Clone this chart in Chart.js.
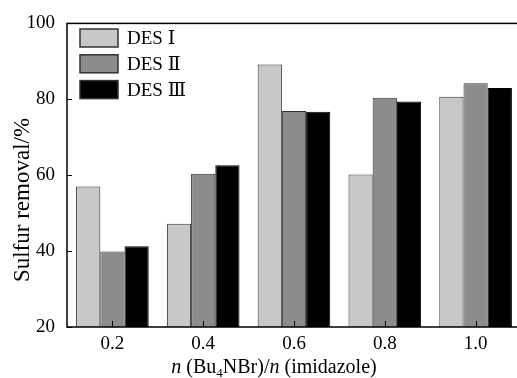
<!DOCTYPE html>
<html>
<head>
<meta charset="utf-8">
<script src="https://cdn.jsdelivr.net/npm/chart.js@4.4.1/dist/chart.umd.min.js"></script>
<style>
  body { margin: 0; background: #fff; overflow: hidden; }
</style>
</head>
<body>
<canvas id="myChart" width="530" height="378"></canvas>
<script>
// molar ratio n(Bu4NBr)/n(imidazole) vs sulfur removal for three DES
const ratios = ['0.2', '0.4', '0.6', '0.8', '1.0'];
const desNames = ['DES Ⅰ', 'DES Ⅱ', 'DES Ⅲ'];
const des1 = [57.0, 47.2, 89.2, 60.2, 80.7];
const des2 = [39.9, 60.4, 76.9, 80.4, 84.2];
const des3 = [41.3, 62.6, 76.7, 79.4, 83.0];
const yTicks = [20, 40, 60, 80, 100];
const yTitle = 'Sulfur removal/%';

const fills = ['#c8c8c8', '#8c8c8c', '#000000'];
const serif = '"Liberation Serif", "DejaVu Serif", serif';

const ctx = document.getElementById('myChart');

const extras = {
  id: 'extras',
  afterDatasetsDraw(chart) {
    const c = chart.ctx;
    const a = chart.chartArea;
    const x = chart.scales.x, y = chart.scales.y;
    c.save();
    c.strokeStyle = '#000';
    c.lineWidth = 1.5;
    c.strokeRect(a.left, a.top, a.right - a.left, a.bottom - a.top);

    // ticks point inwards
    c.lineWidth = 1;
    c.beginPath();
    yTicks.forEach(v => {
      const py = Math.round(y.getPixelForValue(v)) + 0.5;
      c.moveTo(a.left, py); c.lineTo(a.left + 5, py);
    });
    ratios.forEach((r, i) => {
      const px = Math.round(x.getPixelForTick(i)) + 0.5;
      c.moveTo(px, a.bottom); c.lineTo(px, a.bottom - 6);
    });
    c.stroke();

    // legend inside the plot
    c.font = '19px ' + serif;
    c.textBaseline = 'middle';
    chart.data.datasets.forEach((ds, i) => {
      const top = 29 + i * 25.8;
      c.fillStyle = ds.backgroundColor;
      c.fillRect(80, top, 38, 18);
      c.strokeStyle = '#333';
      c.lineWidth = 1.5;
      c.strokeRect(80, top, 38, 18);
      c.fillStyle = '#000';
      c.fillText(ds.label, 127, top + 10);
    });

    // y title
    c.save();
    c.translate(23, 200);
    c.rotate(-Math.PI / 2);
    c.textAlign = 'center';
    c.textBaseline = 'middle';
    c.font = '23px ' + serif;
    c.fillText(yTitle, 0, 0);
    c.restore();

    // x title with italic n and subscript 4
    const parts = [
      { t: 'n', f: 'italic 20px ' + serif, dy: 0 },
      { t: ' (Bu', f: '20px ' + serif, dy: 0 },
      { t: '4', f: '13px ' + serif, dy: 4 },
      { t: 'NBr)/', f: '20px ' + serif, dy: 0 },
      { t: 'n', f: 'italic 20px ' + serif, dy: 0 },
      { t: ' (imidazole)', f: '20px ' + serif, dy: 0 }
    ];
    let total = 0;
    parts.forEach(p => { c.font = p.f; p.w = c.measureText(p.t).width; total += p.w; });
    let px = 274 - total / 2;
    c.textBaseline = 'alphabetic';
    c.textAlign = 'left';
    parts.forEach(p => {
      c.font = p.f;
      c.fillText(p.t, px, 373 + p.dy);
      px += p.w;
    });
    c.restore();
  }
};

new Chart(ctx, {
  type: 'bar',
  data: {
    labels: ratios,
    datasets: [
      { label: desNames[0], data: des1, backgroundColor: fills[0], borderColor: '#333', borderWidth: 1 },
      { label: desNames[1], data: des2, backgroundColor: fills[1], borderColor: '#333', borderWidth: 1 },
      { label: desNames[2], data: des3, backgroundColor: fills[2], borderColor: '#000', borderWidth: 1 }
    ]
  },
  options: {
    responsive: false,
    animation: false,
    layout: { padding: { top: 18, right: 9, left: 0, bottom: 0 } },
    plugins: { legend: { display: false }, tooltip: { enabled: false } },
    datasets: { bar: { categoryPercentage: 0.8, barPercentage: 1.0 } },
    scales: {
      x: {
        grid: { display: false, drawTicks: false },
        border: { display: false },
        ticks: { color: '#000', padding: 6, font: { family: serif, size: 19 } },
        afterFit: s => { s.height = 51; }
      },
      y: {
        min: 20,
        max: 100,
        grid: { display: false, drawTicks: false },
        border: { display: false },
        afterBuildTicks: s => { s.ticks = yTicks.map(v => ({ value: v })); },
        ticks: { color: '#000', padding: 12, font: { family: serif, size: 19 } },
        afterFit: s => { s.width = 67; }
      }
    }
  },
  plugins: [extras]
});
</script>
</body>
</html>
